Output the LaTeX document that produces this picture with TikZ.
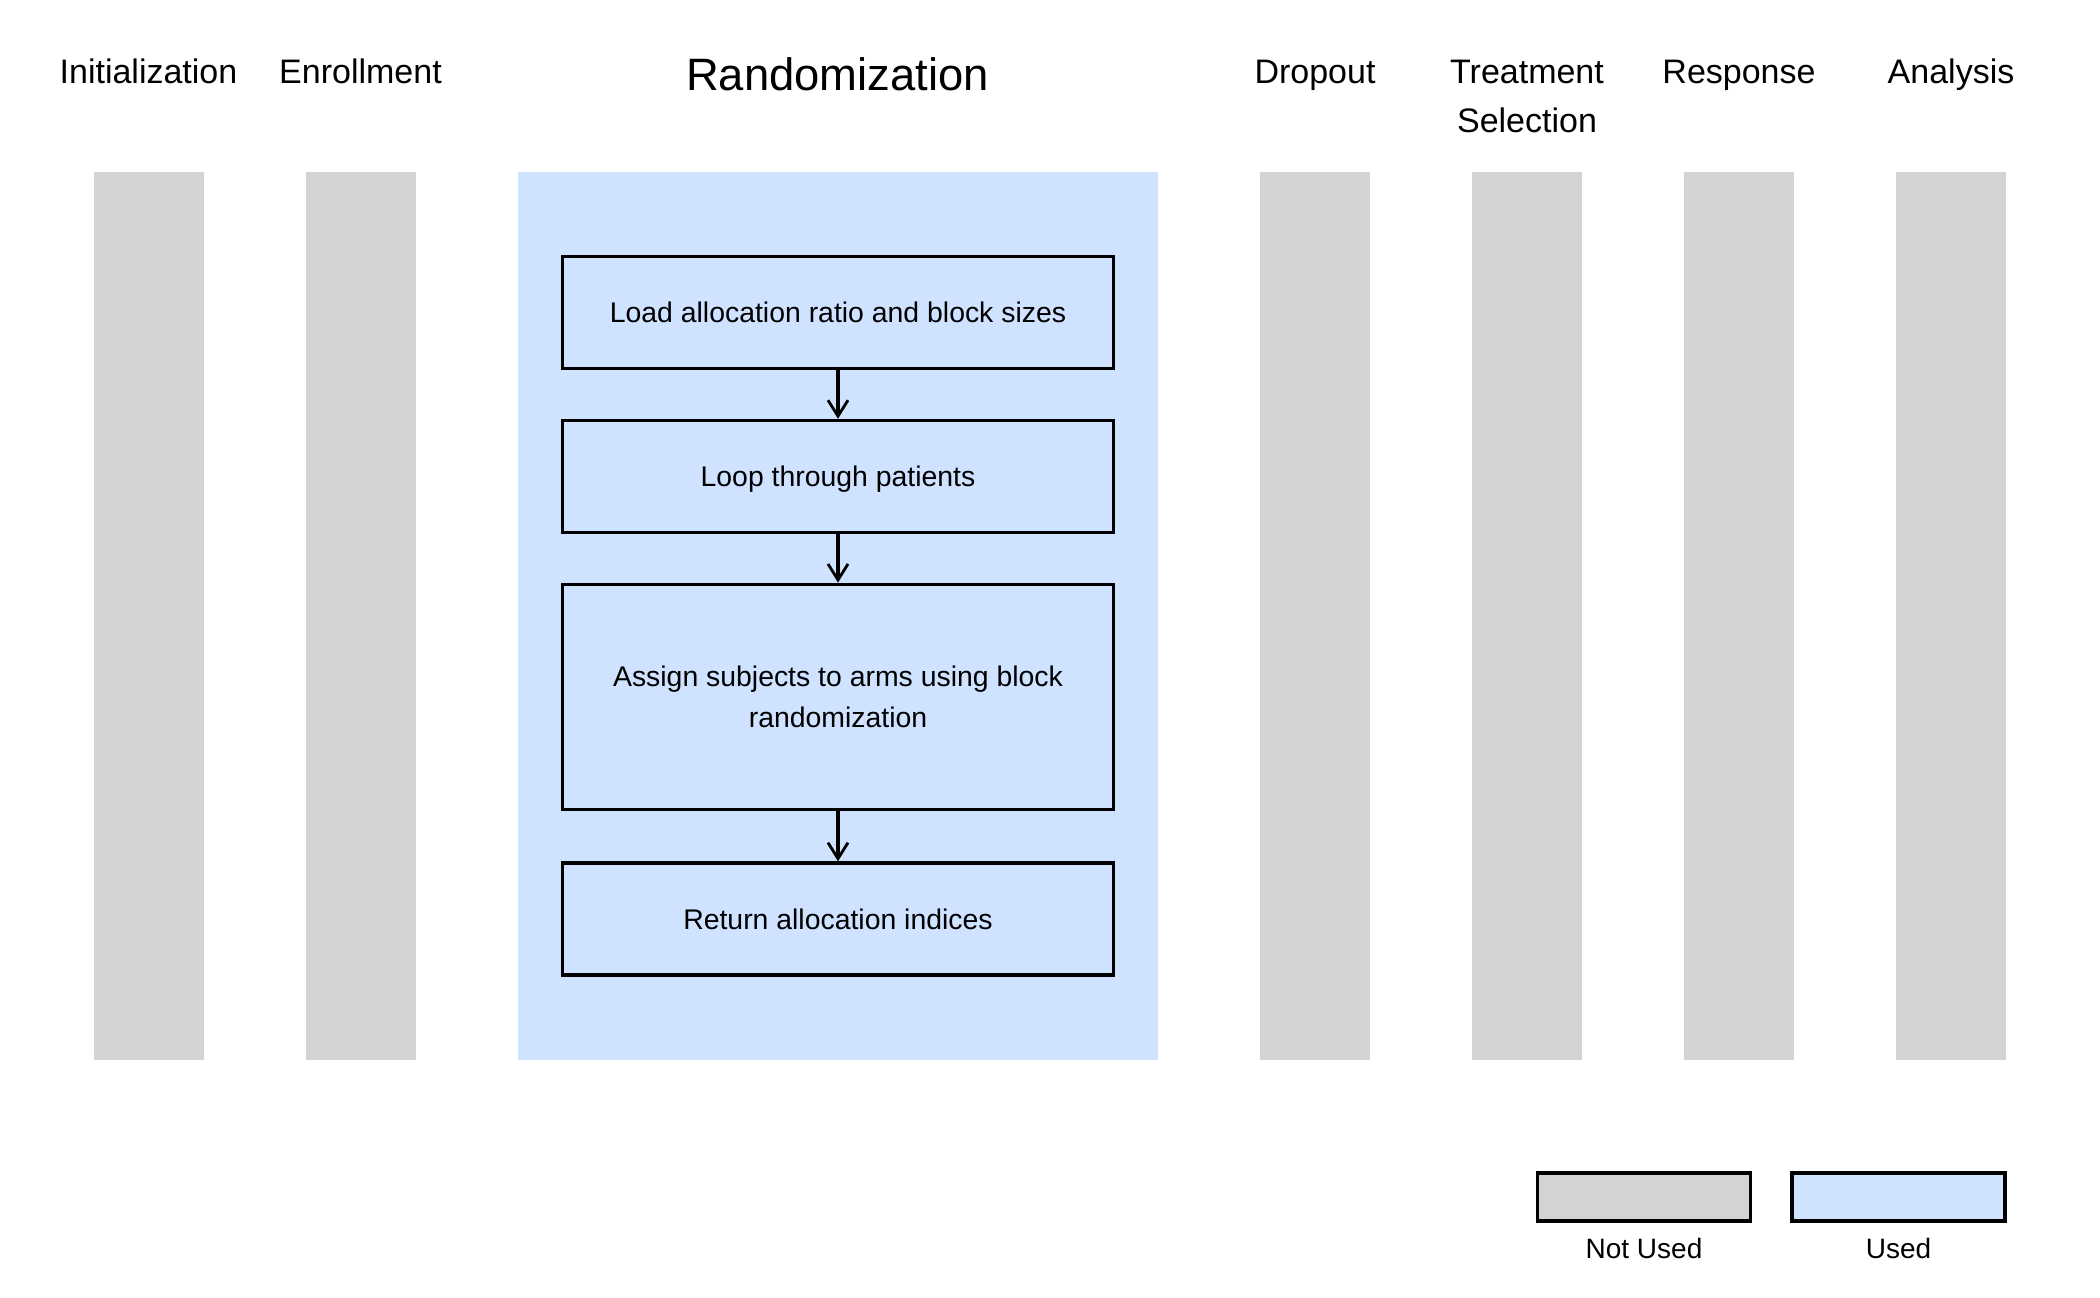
\documentclass[tikz,border=0pt]{standalone}
\usepackage{fontspec}
\setmainfont{Liberation Sans}
\usetikzlibrary{arrows.meta}
\definecolor{notused}{HTML}{D3D3D3}
\definecolor{used}{HTML}{CFE2FF}
\tikzset{
  colbar/.style={fill=notused, draw=none, minimum width=55pt, minimum height=444pt, inner sep=0pt},
  usedpanel/.style={fill=used, draw=none, minimum width=320pt, minimum height=444pt, inner sep=0pt},
  hdr/.style={font=\fontsize{17}{24.5}\selectfont, anchor=base, inner sep=0pt},
  bighdr/.style={font=\fontsize{22.7}{27}\selectfont, anchor=base, inner sep=0pt},
  stepbox/.style={draw=black, fill=used, line width=1.7pt, minimum width=275.5pt, minimum height=56pt, inner sep=0pt, font=\fontsize{14.2}{20.5}\selectfont, align=center},
  onebox/.style={stepbox, text height=10.2pt, text depth=0pt},
  legbox/.style={draw=black, line width=1.7pt, minimum width=106.5pt, minimum height=24pt, inner sep=0pt},
  leglab/.style={font=\fontsize{14}{17}\selectfont, anchor=base, inner sep=0pt},
  flow/.style={line width=1.6pt, -{Straight Barb[length=8pt,width=10pt,line width=1.4pt]}}
}
\begin{document}
\begin{tikzpicture}[x=0.5pt,y=-0.5pt]
\useasboundingbox (0,0) rectangle (2100,1297);
% columns
\node[colbar] (c1) at (148.5,615.5) {};
\node[colbar] (c2) at (360.5,615.5) {};
\node[usedpanel] (c3) at (837.5,615.5) {};
\node[colbar] (c4) at (1315,615.5) {};
\node[colbar] (c5) at (1527,615.5) {};
\node[colbar] (c6) at (1739,615.5) {};
\node[colbar] (c7) at (1951,615.5) {};
% headers
\node[hdr] (h1) at (148.5,83.5) {Initialization};
\node[hdr] (h2) at (360.5,83.5) {Enrollment};
\node[bighdr] (h3) at (837.5,90) {Randomization};
\node[hdr] (h4) at (1315,83.5) {Dropout};
\node[hdr, anchor=north, align=center] (h5) at (1527,60) {Treatment\\Selection};
\node[hdr] (h6) at (1739,83.5) {Response};
\node[hdr] (h7) at (1951,83.5) {Analysis};
% steps
\node[onebox] (s1) at (838,312.5) {Load allocation ratio and block sizes};
\node[onebox] (s2) at (838,476.5) {Loop through patients};
\node[stepbox, minimum height=112.7pt] (s3) at (838,697) {Assign subjects to arms using block\\randomization};
\node[onebox] (s4) at (838,919) {Return allocation indices};
\draw[flow] (s1) -- (s2);
\draw[flow] (s2) -- (s3);
\draw[flow] (s3) -- (s4);
% legend
\node[legbox, fill=notused] (l1) at (1644,1197) {};
\node[legbox, fill=used] (l2) at (1898.5,1197) {};
\node[leglab] (t1) at (1644,1258) {Not Used};
\node[leglab] (t2) at (1898.5,1258) {Used};
\end{tikzpicture}
\end{document}
